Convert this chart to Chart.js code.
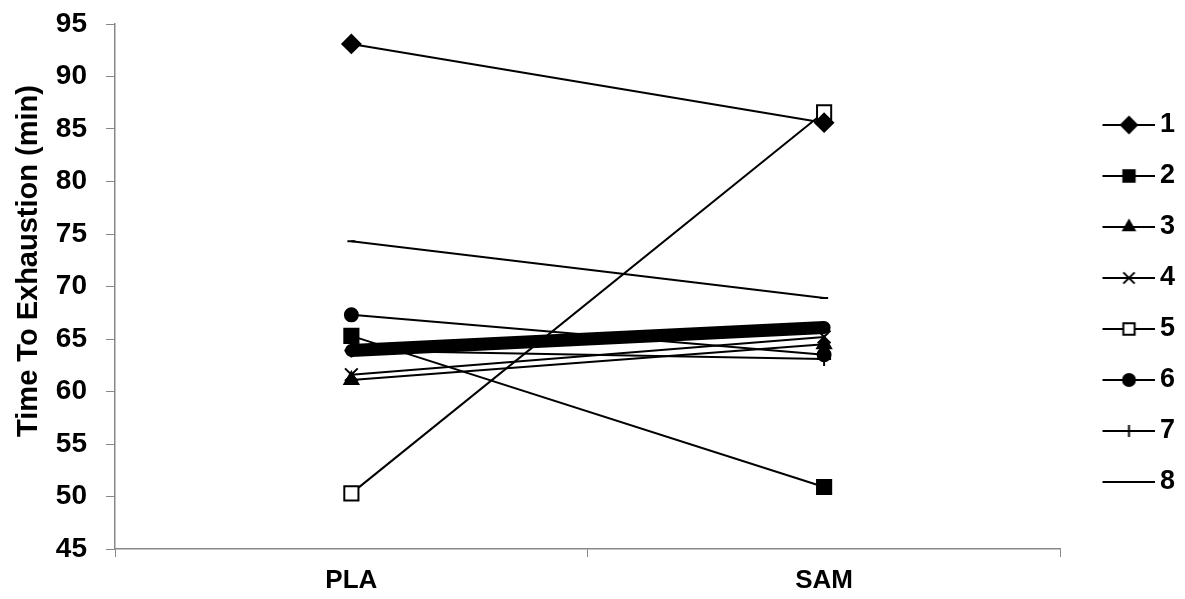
<!DOCTYPE html>
<html>
<head>
<meta charset="utf-8">
<script src="https://cdn.jsdelivr.net/npm/chart.js@4.4.1/dist/chart.umd.min.js"></script>
<style>
  html, body { margin: 0; padding: 0; background: #fff; }
  #wrap { width: 1185px; height: 599px; }
</style>
</head>
<body>
<div id="wrap"><canvas id="chart"></canvas></div>
<script>
// data
const conditions = ["PLA", "SAM"];
const yTicks = [45, 50, 55, 60, 65, 70, 75, 80, 85, 90, 95];
const yTitle = "Time To Exhaustion (min)";
const subjectNames = ["1", "2", "3", "4", "5", "6", "7", "8"];
const subject1 = [93.1, 85.6];
const subject2 = [65.3, 50.9];
const subject3 = [61.1, 64.5];
const subject4 = [61.6, 65.2];
const subject5 = [50.3, 86.6];
const subject6 = [67.3, 63.5];
const subject7 = [63.9, 63.1];
const subject8 = [74.3, 68.9];
const meanLine = [63.9, 66.1];

const FONT = "'Liberation Sans', Arial, sans-serif";

// marker look per subject: [pointStyle, radius, filled]
const markers = [
  ["rectRot", 9, true],
  ["rect", 10, true],
  ["triangle", 8, true],
  ["crossRot", 9, true],
  ["rect", 10, false],
  ["circle", 6.5, true],
  ["cross", 7, true],
  ["line", 4, true]
];
const legendMarkers = [
  ["rectRot", 8, true],
  ["rect", 8, true],
  ["triangle", 6.5, true],
  ["crossRot", 8, true],
  ["rect", 8, false],
  ["circle", 6, true],
  ["cross", 6, true],
  ["line", 4, true]
];

const values = [subject1, subject2, subject3, subject4, subject5, subject6, subject7, subject8];

const datasets = values.map((vals, i) => ({
  label: subjectNames[i],
  data: vals,
  borderColor: "#000",
  borderWidth: 2,
  pointStyle: markers[i][0],
  pointRadius: markers[i][1],
  pointHoverRadius: markers[i][1],
  pointBackgroundColor: markers[i][2] ? "#000" : "#fff",
  pointBorderColor: "#000",
  pointBorderWidth: 2,
  order: 2
}));

datasets.push({
  label: "mean",
  data: meanLine,
  borderColor: "#000",
  borderWidth: 13,
  borderCapStyle: "round",
  pointRadius: 0,
  order: 1
});

// legend swatch: short line with the marker in the middle (left part left blank for spacing)
function legendSwatch(style, radius, filled) {
  const c = document.createElement("canvas");
  c.width = 80;
  c.height = 22;
  const ctx = c.getContext("2d");
  ctx.strokeStyle = "#000";
  ctx.lineWidth = 2;
  ctx.beginPath();
  ctx.moveTo(27, 11);
  ctx.lineTo(80, 11);
  ctx.stroke();
  ctx.fillStyle = filled ? "#000" : "#fff";
  Chart.helpers.drawPoint(ctx, { pointStyle: style, radius: radius, borderWidth: 2, rotation: 0 }, 53.5, 11);
  return c;
}
const swatches = legendMarkers.map(m => legendSwatch(m[0], m[1], m[2]));

// y title drawn by hand, it sits a bit above the axis middle in the original
const yTitlePlugin = {
  id: "yTitle",
  afterDraw(chart) {
    const ctx = chart.ctx;
    ctx.save();
    ctx.translate(28.5, 261);
    ctx.rotate(-Math.PI / 2);
    ctx.fillStyle = "#000";
    ctx.font = "bold 29px " + FONT;
    ctx.textAlign = "center";
    ctx.textBaseline = "middle";
    ctx.fillText(yTitle, 0, 0);
    ctx.restore();
  }
};

new Chart(document.getElementById("chart"), {
  type: "line",
  data: { labels: conditions, datasets },
  plugins: [yTitlePlugin],
  options: {
    responsive: true,
    maintainAspectRatio: false,
    animation: false,
    layout: { padding: { left: 10, top: 8, right: 0, bottom: 0 } },
    plugins: {
      tooltip: { enabled: false },
      legend: {
        position: "right",
        labels: {
          usePointStyle: true,
          pointStyleWidth: 62,
          padding: 24,
          color: "#000",
          font: { family: FONT, size: 27, weight: "bold" },
          filter: item => item.datasetIndex < 8,
          generateLabels: chart => {
            const items = Chart.defaults.plugins.legend.labels.generateLabels(chart);
            return items.map(item => {
              if (item.datasetIndex < 8) item.pointStyle = swatches[item.datasetIndex];
              return item;
            });
          }
        }
      }
    },
    scales: {
      x: {
        offset: true,
        afterFit: axis => { axis.height = 50; },
        grid: { offset: true, drawOnChartArea: false, color: "#888", tickLength: 8 },
        border: { color: "#888", width: 1.5 },
        ticks: { color: "#000", padding: 8, font: { family: FONT, size: 26, weight: "bold" } }
      },
      y: {
        min: yTicks[0],
        max: yTicks[yTicks.length - 1],
        afterBuildTicks: axis => { axis.ticks = yTicks.map(v => ({ value: v })); },
        afterFit: axis => {
          axis.width = 105;
          axis.paddingTop = 24;
          axis.paddingBottom = 0;
        },
        grid: { drawOnChartArea: false, color: "#888", tickLength: 9 },
        border: { color: "#888", width: 1.5 },
        ticks: { color: "#000", padding: 19, font: { family: FONT, size: 28, weight: "bold" } }
      }
    }
  }
});
</script>
</body>
</html>
